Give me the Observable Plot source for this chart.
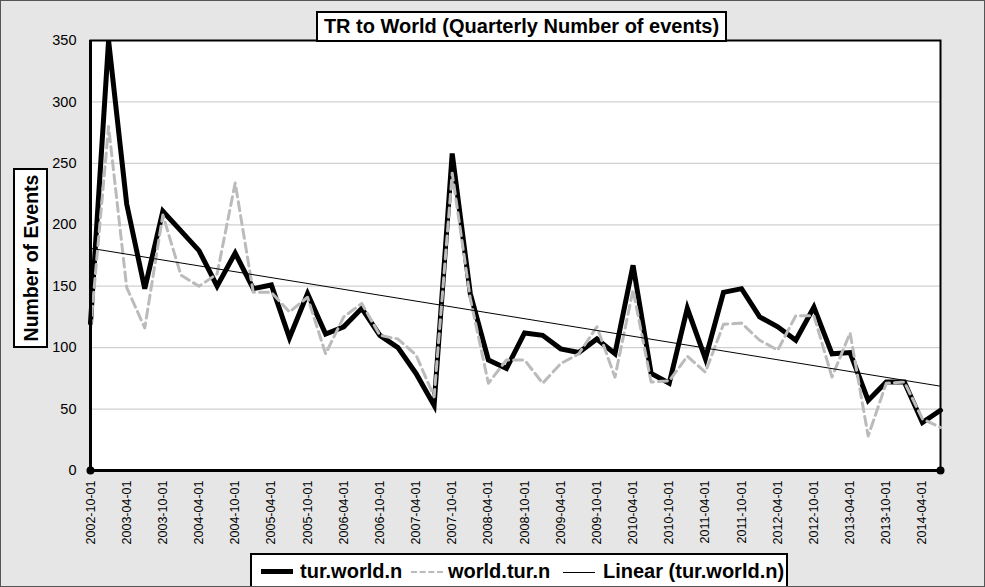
<!DOCTYPE html>
<html>
<head>
<meta charset="utf-8">
<script src="https://cdn.jsdelivr.net/npm/d3@7"></script>
<script src="https://cdn.jsdelivr.net/npm/@observablehq/plot@0.6"></script>
<style>
  html, body { margin: 0; padding: 0; background: #e6e6e6; }
  #wrap { position: relative; width: 985px; height: 587px; background: #e6e6e6; overflow: hidden;
          font-family: "Liberation Sans", Arial, Helvetica, sans-serif; }
  #border { position: absolute; left: 0; top: 0; width: 983px; height: 585px; border: 1px solid #555; pointer-events: none; }
  #title { position: absolute; left: 316px; top: 11px; width: 407px; height: 27px; background: #fff;
           border: 2px solid #000; font-weight: bold; font-size: 20px; line-height: 27px; text-align: center; white-space: nowrap; }
  #ylab { position: absolute; left: 13px; top: 168px; width: 31px; height: 176px; background: #fff; border: 2px solid #000; }
  #ylab span { position: absolute; left: 50%; top: 50%; transform: translate(-50%, -50%) rotate(-90deg);
               white-space: nowrap; font-weight: bold; font-size: 19.5px; }
  #legend { position: absolute; left: 250px; top: 553px; width: 534px; height: 40px; background: #fff;
            border: 2px solid #000; font-weight: bold; font-size: 20px; }
  .li { position: absolute; top: 5px; line-height: 22px; white-space: nowrap; }
  .sw { position: absolute; top: 16px; width: 32px; }
</style>
</head>
<body>
<div id="wrap">
  <div id="chart"></div>
  <div id="title">TR to World (Quarterly Number of events)</div>
  <div id="ylab"><span>Number of Events</span></div>
  <div id="legend">
    <div class="sw" style="left:9px; border-top:5px solid #000; top:14px;"></div>
    <div class="li" style="left:48px;">tur.world.n</div>
    <div class="sw" style="left:159px; border-top:2px dashed #bbb; top:16px;"></div>
    <div class="li" style="left:196px;">world.tur.n</div>
    <div class="sw" style="left:311px; border-top:1px solid #000; top:17px;"></div>
    <div class="li" style="left:351px;">Linear (tur.world.n)</div>
  </div>
  <div id="border"></div>
</div>
<script>
const dates = [
  "2002-10-01","2003-01-01","2003-04-01","2003-07-01","2003-10-01","2004-01-01","2004-04-01","2004-07-01",
  "2004-10-01","2005-01-01","2005-04-01","2005-07-01","2005-10-01","2006-01-01","2006-04-01","2006-07-01",
  "2006-10-01","2007-01-01","2007-04-01","2007-07-01","2007-10-01","2008-01-01","2008-04-01","2008-07-01",
  "2008-10-01","2009-01-01","2009-04-01","2009-07-01","2009-10-01","2010-01-01","2010-04-01","2010-07-01",
  "2010-10-01","2011-01-01","2011-04-01","2011-07-01","2011-10-01","2012-01-01","2012-04-01","2012-07-01",
  "2012-10-01","2013-01-01","2013-04-01","2013-07-01","2013-10-01","2014-01-01","2014-04-01","2014-07-01"
];
const turWorld = [120,350,217,148,211,195,179,150,177,148,151,108,144,111,117,132,110,100,79,53,
  258,144,90,83,112,110,99,96,107,95,167,79,71,132,91,145,148,125,117,106,133,95,96,57,72,72,39,49];
const worldTur = [115,280,149,116,208,159,150,160,234,145,145,129,141,95,125,136,110,107,94,60,
  242,140,71,90,90,71,87,95,117,76,147,72,73,93,80,119,120,106,98,126,126,76,112,28,71,72,42,35];
const yTicks = [0,50,100,150,200,250,300,350];

const rows = dates.map((d, i) => ({i, date: d, tw: turWorld[i], wt: worldTur[i]}));
const xTicks = rows.filter(r => r.i % 2 === 0 && r.i < dates.length - 1).map(r => r.i);
const last = dates.length - 1;

const plot = Plot.plot({
  width: 985,
  height: 587,
  marginLeft: 90,
  marginRight: 45,
  marginTop: 40,
  marginBottom: 117,
  style: {background: "transparent", fontFamily: "'Liberation Sans', Arial, sans-serif", color: "#000"},
  x: {domain: [0, last], ticks: xTicks, tickFormat: i => dates[i], tickRotate: -90, tickSize: 0, tickPadding: 10, label: null},
  y: {domain: [0, 350], ticks: yTicks, tickSize: 0, tickPadding: 14, label: null},
  marks: [
    Plot.frame({fill: "white", stroke: null}),
    Plot.gridY(yTicks, {stroke: "#d0d0d0", strokeOpacity: 1, strokeWidth: 1.2}),
    Plot.frame({stroke: "#000", strokeWidth: 2}),
    Plot.axisY({ticks: yTicks, tickSize: 0, tickPadding: 14, fontSize: 14.5, label: null}),
    Plot.axisX({ticks: xTicks, tickFormat: i => dates[i], tickRotate: -90, tickSize: 0, tickPadding: 10, fontSize: 12.5, label: null}),
    Plot.line(rows, {x: "i", y: "tw", stroke: "#000", strokeWidth: 5, strokeLinejoin: "miter", strokeMiterlimit: 4}),
    Plot.line(rows, {x: "i", y: "wt", stroke: "#bbb", strokeWidth: 3, strokeDasharray: "9,5"}),
    Plot.linearRegressionY(rows, {x: "i", y: "tw", stroke: "#000", strokeWidth: 1, ci: 0}),
    Plot.ruleX([0], {stroke: "#000", strokeWidth: 3}),
    Plot.ruleY([0], {stroke: "#000", strokeWidth: 3}),
    Plot.dot([0, last], {x: d => d, y: () => 0, r: 4, fill: "#000"})
  ]
});
document.getElementById("chart").appendChild(plot);
</script>
</body>
</html>
